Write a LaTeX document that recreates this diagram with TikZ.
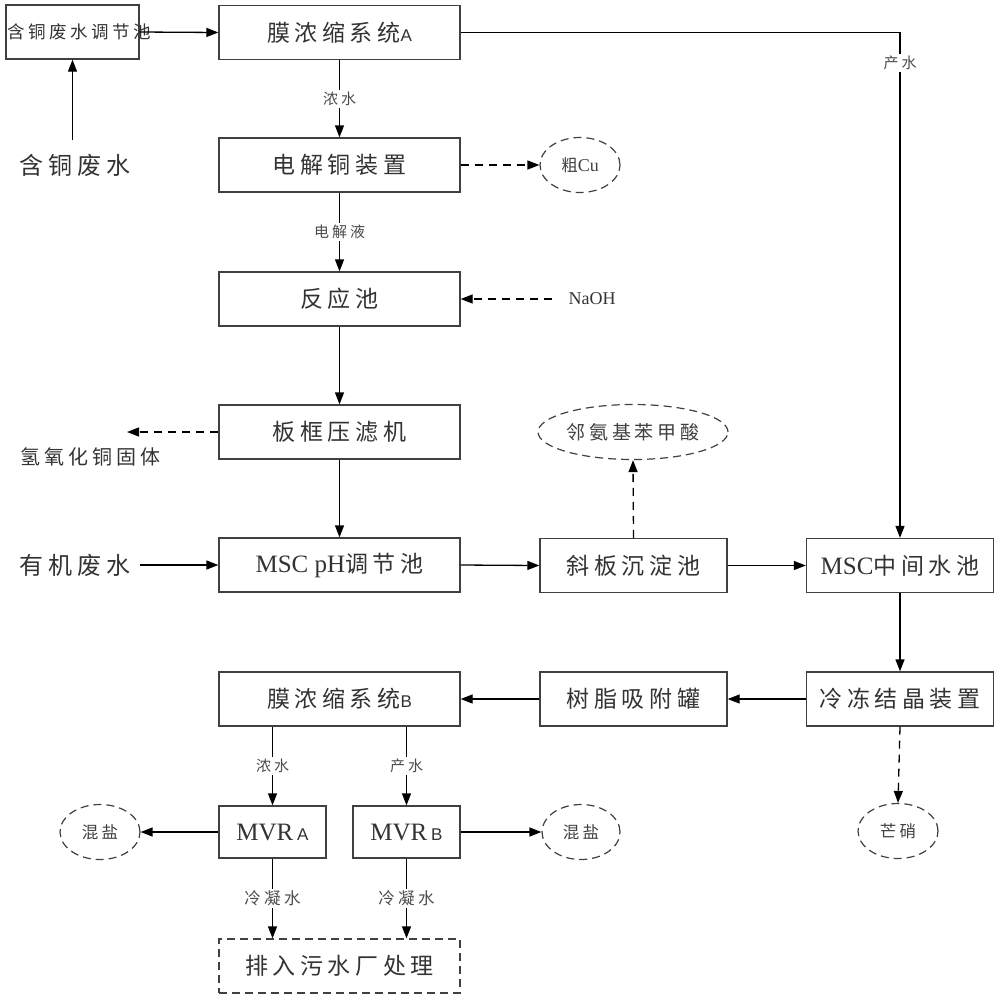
\documentclass[tikz,border=0pt]{standalone}
\usepackage{fontspec}
\setmainfont{Liberation Serif}
\newfontfamily\cjk[LetterSpace=20]{Noto Sans CJK SC}
\newfontfamily\lsans{Liberation Sans}
\usetikzlibrary{arrows.meta,shapes.geometric}
\begin{document}
\begin{tikzpicture}[x=1pt,y=-1pt,
  box/.style={draw=black!75,line width=1.3pt,minimum width=241pt,minimum height=54pt,inner sep=0pt,text=black!80,font=\cjk\fontsize{23}{25}\selectfont},
  sbox/.style={box,minimum width=187pt},
  mbox/.style={box,minimum width=107pt,minimum height=52pt},
  oval/.style={draw=black!75,line width=1.2pt,dash pattern=on 8pt off 5pt,ellipse,minimum width=80pt,minimum height=55pt,inner sep=0pt,text=black!75,font=\cjk\fontsize{16.5}{19}\selectfont},
  plain/.style={text=black!80,inner sep=0pt,font=\cjk\fontsize{22}{24}\selectfont},
  lbl/.style={fill=white,inner sep=2pt,text=black!70,font=\cjk\fontsize{15}{17}\selectfont},
  arr/.style={draw=black,line width=1.3pt,-{Triangle[length=12pt,width=9pt]}},
  darr/.style={arr,dash pattern=on 8pt off 6pt}
]
\useasboundingbox (0,0) rectangle (1000,999);
\fill[white] (0,0) rectangle (1000,999);

% boxes
\node[box,minimum width=133pt] (tj) at (72.5,32) {};
\node[plain,font=\cjk\fontsize{17.5}{20}\selectfont] (tjt) at (79,32) {含铜废水调节池};
\node[box] (mA) at (339.5,32.5) {膜浓缩系统{\lsans\fontsize{17}{19}\selectfont A}};
\node[box] (dj) at (339.5,165) {电解铜装置};
\node[box] (fy) at (339.5,299) {反应池};
\node[box] (bk) at (339.5,432) {板框压滤机};
\node[box] (ph) at (339.5,565) {{\rmfamily\fontsize{25}{26}\selectfont MSC pH}调节池};
\node[sbox] (xb) at (633.5,565.5) {斜板沉淀池};
\node[sbox] (zj) at (900,565.5) {{\rmfamily\fontsize{25}{26}\selectfont MSC}中间水池};
\node[sbox] (ld) at (900,699) {冷冻结晶装置};
\node[sbox] (sz) at (633.5,699) {树脂吸附罐};
\node[box] (mB) at (339.5,699) {膜浓缩系统{\lsans\fontsize{17}{19}\selectfont B}};
\node[mbox] (mvA) at (272.5,832) {{\rmfamily\fontsize{25}{26}\selectfont MVR}\,{\lsans\fontsize{17}{19}\selectfont A}};
\node[mbox] (mvB) at (406.5,832) {{\rmfamily\fontsize{25}{26}\selectfont MVR}\,{\lsans\fontsize{17}{19}\selectfont B}};
\node[box,dash pattern=on 8pt off 5pt] (pw) at (339.5,966) {排入污水厂处理};

% ellipses
\node[oval] (cu) at (580,165) {粗{\rmfamily\fontsize{18}{20}\selectfont Cu}};
\node[oval,minimum width=190pt,font=\cjk\fontsize{19}{21}\selectfont] (lin) at (633,432) {邻氨基苯甲酸};
\node[oval] (mx) at (898,831) {芒硝};
\node[oval] (hy1) at (100,832) {混盐};
\node[oval,minimum width=78pt] (hy2) at (581,832) {混盐};

% free texts
\node[plain,font=\cjk\fontsize{24}{26}\selectfont] (hw) at (75,165) {含铜废水};
\node[plain,font=\rmfamily\fontsize{18}{20}\selectfont] (naoh) at (592,299) {NaOH};
\node[plain,font=\cjk\fontsize{20}{22}\selectfont] (qy) at (90,457) {氢氧化铜固体};
\node[plain,font=\cjk\fontsize{24}{26}\selectfont] (yj) at (75,565) {有机废水};

\coordinate (hwtop) at (72.5,140);
\coordinate (naohl) at (552,299);
\coordinate (qyend) at (127,432);
\coordinate (yjr) at (140,565);

% connectors
\draw[arr] (hwtop) -- (tj.south);
\draw[arr] (tj.east) -- (mA.west);
\draw[arr] (mA.east) -| (zj.north);
\node[lbl] (lp1) at (900,63) {产水};
\draw[arr] (mA.south) -- node[lbl] {浓水} (dj.north);
\draw[darr] (dj.east) -- (cu.west);
\draw[arr] (dj.south) -- node[lbl] {电解液} (fy.north);
\draw[darr] (naohl) -- (fy.east);
\draw[arr] (fy.south) -- (bk.north);
\draw[darr] (bk.west) -- (qyend);
\draw[arr] (bk.south) -- (ph.north);
\draw[arr] (yjr) -- (ph.west);
\draw[arr] (ph.east) -- (xb.west);
\draw[darr] (xb.north) -- (lin.south);
\draw[arr] (xb.east) -- (zj.west);
\draw[arr] (zj.south) -- (ld.north);
\draw[arr] (ld.west) -- (sz.east);
\draw[arr] (sz.west) -- (mB.east);
\draw[darr] (ld.south) -- (mx.north);
\draw[arr] (mB.south -| mvA.north) -- node[lbl] {浓水} (mvA.north);
\draw[arr] (mB.south -| mvB.north) -- node[lbl] {产水} (mvB.north);
\draw[arr] (mvA.west) -- (hy1.east);
\draw[arr] (mvB.east) -- (hy2.west);
\draw[arr] (mvA.south) -- node[lbl,font=\cjk\fontsize{16.5}{18}\selectfont] {冷凝水} (mvA.south |- pw.north);
\draw[arr] (mvB.south) -- node[lbl,font=\cjk\fontsize{16.5}{18}\selectfont] {冷凝水} (mvB.south |- pw.north);
\end{tikzpicture}
\end{document}
